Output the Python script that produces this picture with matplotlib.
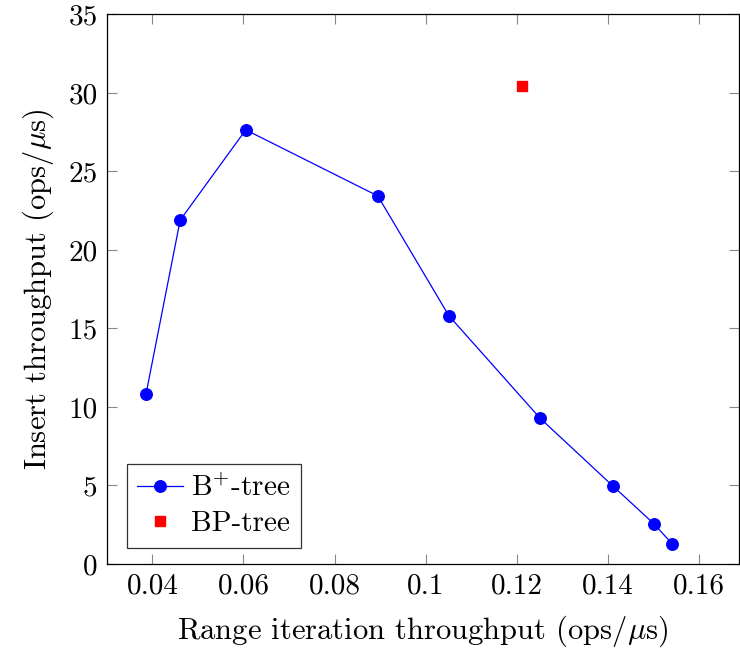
import matplotlib
matplotlib.use("Agg")
import matplotlib.pyplot as plt

bplus_x = [0.0386, 0.0461, 0.0605, 0.0895, 0.1051, 0.1251, 0.1411, 0.1501, 0.1541]
bplus_y = [10.82, 21.9, 27.65, 23.44, 15.81, 9.29, 4.97, 2.56, 1.29]
bp_x = [0.1211]
bp_y = [30.43]
xticks = [0.04, 0.06, 0.08, 0.1, 0.12, 0.14, 0.16]
xtick_labels = ["0.04", "0.06", "0.08", "0.1", "0.12", "0.14", "0.16"]
yticks = [0, 5, 10, 15, 20, 25, 30, 35]

plt.rcParams['font.family'] = ['cmr10', 'DejaVu Serif']
plt.rcParams['mathtext.fontset'] = 'cm'
plt.rcParams['axes.unicode_minus'] = False

fig = plt.figure(figsize=(7.4, 6.59), dpi=100)
ax = fig.add_axes([0.145, 0.1443, 0.8536, 0.8337])

ax.plot(bplus_x, bplus_y, color='#0000ff', lw=0.9, marker='o', ms=8.3,
        label=r'B$^{+}$-tree')
ax.plot(bp_x, bp_y, ls='none', color='#ff0000', marker='s', ms=7.5,
        label='BP-tree')

ax.set_xlim(0.0301, 0.1688)
ax.set_ylim(0, 35)
ax.set_xticks(xticks)
ax.set_xticklabels(xtick_labels)
ax.set_yticks(yticks)
ax.tick_params(direction='in', length=7, width=0.8, color='#888888',
               top=True, right=True, labelsize=21, pad=7)
for s in ax.spines.values():
    s.set_linewidth(0.9)

ax.set_xlabel(r'Range iteration throughput (ops/$\mu$s)', fontsize=22, labelpad=10)
ax.set_ylabel(r'Insert throughput (ops/$\mu$s)', fontsize=22, labelpad=9)

leg = ax.legend(loc='lower left', bbox_to_anchor=(0.0315, 0.0295), fontsize=21,
                frameon=True, fancybox=False, edgecolor='black',
                handlelength=1.55, handletextpad=0.3, borderpad=0.35,
                labelspacing=0.3, borderaxespad=0)
leg.get_frame().set_linewidth(0.9)

fig.savefig('out.png', dpi=100)
